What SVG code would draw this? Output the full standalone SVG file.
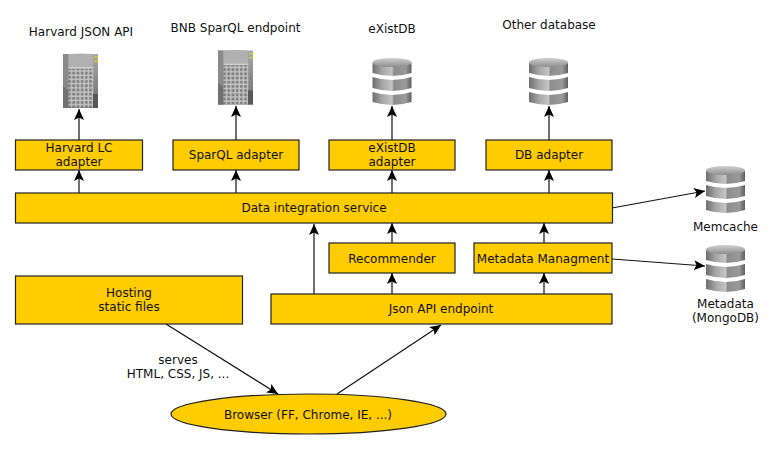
<svg xmlns="http://www.w3.org/2000/svg" xmlns:xlink="http://www.w3.org/1999/xlink" width="776" height="450" viewBox="0 0 776 450">
<style>
text{font-family:"DejaVu Sans",sans-serif;font-size:12px;fill:#111;text-anchor:middle}
.b{fill:#fc0;stroke:#222;stroke-width:1.2}
.c{fill:none;stroke:#111;stroke-width:1.2;marker-end:url(#a)}
</style>
<defs>
<marker id="a" markerUnits="userSpaceOnUse" markerWidth="14" markerHeight="12" refX="11" refY="5" orient="auto"><path d="M0 0L11 5L0 10L2.500 5Z" fill="#000"/></marker>
<linearGradient id="dg"><stop offset="0" stop-color="#6e6e6e"/><stop offset=".25" stop-color="#a5a5a5"/><stop offset=".5" stop-color="#c4c4c4"/><stop offset=".55" stop-color="#8c8c8c"/><stop offset=".85" stop-color="#9a9a9a"/><stop offset="1" stop-color="#5e5e5e"/></linearGradient>
<linearGradient id="dt" x1="0" y1="0" x2="0" y2="1"><stop offset="0" stop-color="#d0d0d0"/><stop offset="1" stop-color="#8e8e8e"/></linearGradient>
<linearGradient id="sg" x1="0" y1="0" x2="0" y2="1"><stop offset="0" stop-color="#a8a8a8"/><stop offset="1" stop-color="#6c6c6c"/></linearGradient>
<pattern id="grid" width="4.200" height="4.200" patternUnits="userSpaceOnUse"><rect width="4.200" height="4.200" fill="#c4c4c4"/><rect x="1" y="1" width="2.700" height="2.700" fill="#7c7c7c"/></pattern>
<g id="db">
<path d="M0 34Q20 40 39 34V44Q20 50 0 44Z" fill="url(#dg)"/>
<path d="M0 19Q20 25 39 19V30Q20 36 0 30Z" fill="url(#dg)"/>
<path d="M0 5V15Q20 21 39 15V5Z" fill="url(#dg)"/>
<ellipse cx="19.500" cy="4.500" rx="19.500" ry="4.500" fill="url(#dt)"/>
</g>
<g id="srv">
<rect x="0" y="0" width="35" height="54" fill="url(#sg)"/>
<rect x="0" y="0" width="5.500" height="54" fill="#8a8a8a"/>
<path d="M0 32L5.500 37V54H0Z" fill="#707070"/>
<path d="M5.500 0Q18 -1 30 0V13H5.500Z" fill="#b0b0b0"/>
<rect x="5.500" y="13" width="25" height="1.500" fill="#d0d0d0"/>
<rect x="5.500" y="15" width="25" height="38.500" fill="url(#grid)"/>
<rect x="30" y="40" width="5" height="14" fill="#585858"/>
<rect x="31" y="2.500" width="4" height="1.500" fill="#c8d030"/>
<rect x="31" y="6.500" width="4" height="1.500" fill="#c8d030"/>
</g>
</defs>
<g id="conn">
<path class="c" d="M79 140V109"/>
<path class="c" d="M236 140V106"/>
<path class="c" d="M392 140V106"/>
<path class="c" d="M549 140V106"/>
<path class="c" d="M79 193V170"/>
<path class="c" d="M236 193V170"/>
<path class="c" d="M392 193V170"/>
<path class="c" d="M549 193V170"/>
<path class="c" d="M612 208L705 191"/>
<path class="c" d="M612 259L705 266"/>
<path class="c" d="M392 243V223"/>
<path class="c" d="M544 243V223"/>
<path class="c" d="M314 294V224"/>
<path class="c" d="M392 294V273"/>
<path class="c" d="M544 294V273"/>
<path class="c" d="M166 324L278 394"/>
<path class="c" d="M337 394L441 325"/>
</g>
<g id="s1"><use xlink:href="#srv" x="63" y="54"/><text x="81" y="36">Harvard JSON API</text></g>
<g id="s2"><use xlink:href="#srv" x="218" y="50.500"/><text x="235.500" y="32">BNB SparQL endpoint</text></g>
<g id="d1"><use xlink:href="#db" x="372.500" y="58"/><text x="392" y="33">eXistDB</text></g>
<g id="d2"><use xlink:href="#db" x="529" y="58"/><text x="549" y="28.500">Other database</text></g>
<g id="d3"><use xlink:href="#db" x="706" y="166"/><text x="725.500" y="231">Memcache</text></g>
<g id="d4"><use xlink:href="#db" x="706" y="245"/><text x="725.500" y="308">Metadata</text><text x="725.500" y="322">(MongoDB)</text></g>
<g id="n1"><rect class="b" x="15.500" y="140" width="127" height="30"/><text x="79" y="152">Harvard LC</text><text x="79" y="166">adapter</text></g>
<g id="n2"><rect class="b" x="173" y="140" width="126" height="30"/><text x="236" y="159">SparQL adapter</text></g>
<g id="n3"><rect class="b" x="329" y="140" width="126" height="30"/><text x="392" y="152">eXistDB</text><text x="392" y="166">adapter</text></g>
<g id="n4"><rect class="b" x="486" y="140" width="126" height="30"/><text x="549" y="159">DB adapter</text></g>
<g id="n5"><rect class="b" x="15.500" y="193" width="597" height="30"/><text x="314" y="212">Data integration service</text></g>
<g id="n6"><rect class="b" x="329" y="243" width="126" height="30"/><text x="392" y="263">Recommender</text></g>
<g id="n7"><rect class="b" x="474" y="243" width="138" height="30"/><text x="543" y="263">Metadata Managment</text></g>
<g id="n8"><rect class="b" x="15.500" y="276" width="227" height="48"/><text x="129" y="297">Hosting</text><text x="129" y="311">static files</text></g>
<g id="n9"><rect class="b" x="271" y="294" width="341" height="30"/><text x="441" y="313">Json API endpoint</text></g>
<g id="n10"><ellipse class="b" cx="308.500" cy="414" rx="137.500" ry="20"/><text x="308" y="419">Browser (FF, Chrome, IE, ...)</text></g>
<g id="lbl"><text x="178" y="364">serves</text><text x="178" y="378">HTML, CSS, JS, ...</text></g>
</svg>
